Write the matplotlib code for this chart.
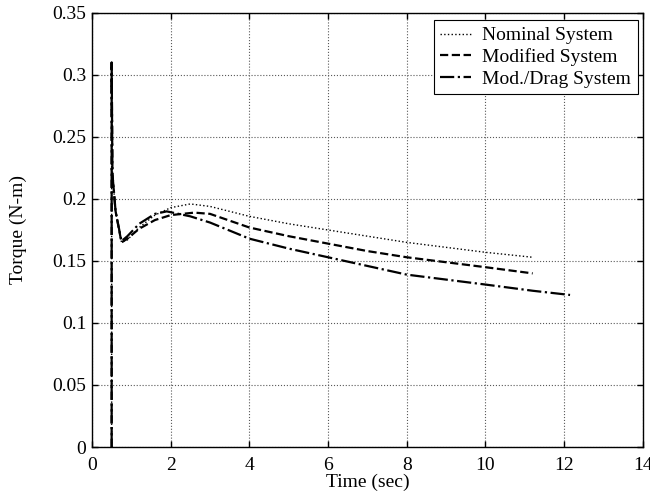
import numpy as np
import matplotlib.pyplot as plt

plt.rcParams['font.family'] = ['Liberation Serif', 'DejaVu Serif']

# Torque traces
t_nom = [0.5, 0.5, 0.52, 0.6, 0.75, 0.9, 1.2, 1.6, 2.0, 2.5, 3.0, 4.0, 5.0,
         6.0, 7.0, 8.0, 9.0, 10.0, 11.2]
nominal = [0.0, 0.31, 0.22, 0.19, 0.165, 0.167, 0.177, 0.187, 0.193, 0.196,
           0.194, 0.186, 0.180, 0.175, 0.170, 0.165, 0.161, 0.157, 0.153]

t_mod = [0.5, 0.5, 0.52, 0.6, 0.75, 0.9, 1.2, 1.6, 2.0, 2.6, 3.0, 4.0, 5.0,
         6.0, 7.0, 8.0, 9.0, 10.0, 11.2]
modified = [0.0, 0.31, 0.22, 0.19, 0.165, 0.168, 0.176, 0.183, 0.187, 0.189,
            0.188, 0.177, 0.170, 0.164, 0.158, 0.153, 0.149, 0.145, 0.140]

t_drag = [0.5, 0.5, 0.52, 0.6, 0.75, 0.9, 1.2, 1.6, 1.9, 2.5, 3.0, 4.0, 5.0,
          6.0, 7.0, 8.0, 9.0, 10.0, 11.2, 12.15]
mod_drag = [0.0, 0.31, 0.22, 0.19, 0.166, 0.170, 0.180, 0.188, 0.190, 0.186,
            0.181, 0.168, 0.160, 0.153, 0.146, 0.139, 0.135, 0.131, 0.126, 0.1226]

fig = plt.figure(figsize=(6.5, 4.97), dpi=100)
ax = fig.add_axes([0.1415, 0.1006, 0.8475, 0.8733])

ax.plot(t_nom, nominal, 'k:', lw=1.0, label='Nominal System')
ax.plot(t_mod, modified, 'k--', lw=1.6, label='Modified System')
ax.plot(t_drag, mod_drag, 'k-.', lw=1.6, label='Mod./Drag System')

ax.set_xlim(0, 14)
ax.set_ylim(0, 0.35)
ax.set_xticks(np.arange(0, 15, 2))
ax.set_yticks(np.arange(0, 0.36, 0.05))
ax.set_yticklabels(['0', '0.05', '0.1', '0.15', '0.2', '0.25', '0.3', '0.35'])
ax.grid(True, linestyle=':', color='0.35', lw=0.8)
ax.tick_params(direction='in', top=True, right=True, labelsize=14, length=4, width=1)
ax.tick_params(axis='x', pad=7)
ax.tick_params(axis='y', pad=4)
for s in ax.spines.values():
    s.set_linewidth(1.0)

ax.set_xlabel('Time (sec)', fontsize=14, labelpad=0)
ax.set_ylabel('Torque (N-m)', fontsize=14, labelpad=18)

leg = ax.legend(loc='upper right', bbox_to_anchor=(0.9909, 0.984), borderaxespad=0,
                fontsize=14, fancybox=False, framealpha=1, edgecolor='k',
                handlelength=1.6, handletextpad=0.55, borderpad=0.35,
                labelspacing=0.2)
leg.get_frame().set_linewidth(0.8)

fig.savefig('out.png', dpi=100)
